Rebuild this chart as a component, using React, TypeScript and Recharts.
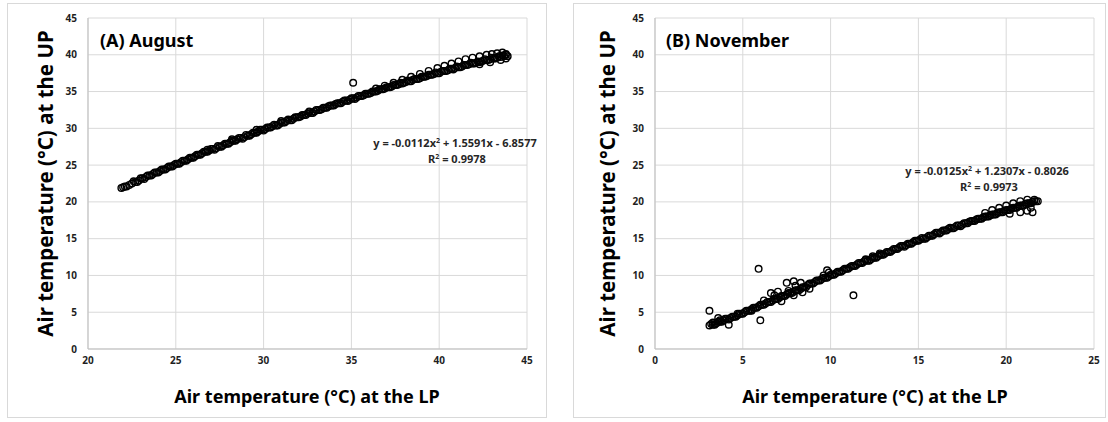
import React from 'react'
import { ScatterChart, Scatter, XAxis, YAxis, CartesianGrid } from 'recharts'

type Pt = [number, number]

// August: UP vs LP air temperature (°C)
const augustMain: Pt[] = [
  [21.9, 21.9], [22.0, 22.0], [22.1, 22.1], [22.2, 22.1], [22.35, 22.3], [22.5, 22.5],
  [22.7, 22.7], [22.9, 22.9], [23.1, 23.2], [23.3, 23.4], [23.5, 23.6], [23.7, 23.8],
  [23.9, 24.0], [24.1, 24.2], [24.3, 24.4], [24.5, 24.6], [24.7, 24.8], [24.9, 25.0],
  [25.1, 25.2], [25.3, 25.4], [25.5, 25.6], [25.7, 25.8], [25.9, 26.0], [26.1, 26.2],
  [26.3, 26.4], [26.5, 26.6], [26.7, 26.8], [26.9, 27.0], [27.1, 27.2], [27.3, 27.3],
  [27.5, 27.5], [27.7, 27.7], [27.9, 27.9], [28.1, 28.1], [28.3, 28.3], [28.5, 28.5],
  [28.7, 28.7], [28.9, 28.8], [29.1, 29.0], [29.3, 29.2], [29.5, 29.4], [29.7, 29.6],
  [29.9, 29.8], [30.1, 29.9], [30.3, 30.1], [30.5, 30.3], [30.7, 30.4], [30.9, 30.6],
  [31.1, 30.8], [31.3, 31.0], [31.5, 31.1], [31.7, 31.3], [31.9, 31.5], [32.1, 31.6],
  [32.3, 31.8], [32.5, 32.0], [32.7, 32.1], [32.9, 32.3], [33.1, 32.5], [33.3, 32.6],
  [33.5, 32.8], [33.7, 33.0], [33.9, 33.1], [34.1, 33.3], [34.3, 33.4], [34.5, 33.6],
  [34.7, 33.8], [34.9, 33.9], [35.1, 34.1], [35.3, 34.2], [35.5, 34.4], [35.7, 34.5],
  [35.9, 34.7], [36.1, 34.8], [36.3, 35.0], [36.5, 35.1], [36.7, 35.3], [36.9, 35.4],
  [37.1, 35.6], [37.3, 35.7], [37.5, 35.9], [37.7, 36.0], [37.9, 36.1], [38.1, 36.3],
  [38.3, 36.4], [38.5, 36.6], [38.7, 36.7], [38.9, 36.8], [39.1, 37.0], [39.3, 37.1],
  [39.5, 37.3], [39.7, 37.4], [39.9, 37.5], [40.1, 37.7], [40.3, 37.8], [40.5, 37.9],
  [40.7, 38.1], [40.9, 38.2], [41.1, 38.3], [41.3, 38.4], [41.5, 38.6], [41.7, 38.7],
  [41.9, 38.8], [42.1, 38.9], [42.3, 39.0], [42.5, 39.2], [42.7, 39.3], [42.9, 39.4],
  [43.1, 39.5], [43.3, 39.6], [43.5, 39.7], [43.7, 39.8],
]
const augustMid: Pt[] = [
  [22.6, 22.8], [22.8, 22.7], [23.0, 23.2], [23.2, 23.1], [23.4, 23.6], [23.6, 23.6],
  [23.8, 24.0], [24.0, 24.0], [24.2, 24.4], [24.4, 24.4], [24.6, 24.8], [24.8, 24.8],
  [25.0, 25.2], [25.2, 25.2], [25.4, 25.6], [25.6, 25.6], [25.8, 26.0], [26.0, 26.0],
  [26.2, 26.4], [26.4, 26.4], [26.6, 26.8], [26.8, 26.8], [27.0, 27.2], [27.2, 27.1],
  [27.4, 27.6], [27.6, 27.5], [27.8, 27.9], [28.0, 27.9], [28.2, 28.3], [28.4, 28.3],
  [28.6, 28.7], [28.8, 28.6], [29.0, 29.1], [29.2, 29.0], [29.4, 29.4], [29.6, 29.4],
  [29.8, 29.8], [30.0, 29.7], [30.2, 30.1], [30.4, 30.1], [30.6, 30.5], [30.8, 30.4],
  [31.0, 30.8], [31.2, 30.8], [31.4, 31.2], [31.6, 31.1], [31.8, 31.5], [32.0, 31.5],
  [32.2, 31.8], [32.4, 31.8], [32.6, 32.2], [32.8, 32.1], [33.0, 32.5], [33.2, 32.5],
  [33.4, 32.8], [33.6, 32.8], [33.8, 33.1], [34.0, 33.1], [34.2, 33.4], [34.4, 33.4],
  [34.6, 33.8], [34.8, 33.7], [35.0, 34.1], [35.2, 34.0], [35.4, 34.4], [35.6, 34.4],
  [35.8, 34.7], [36.0, 34.7], [36.2, 35.0], [36.4, 35.0], [36.6, 35.3], [36.8, 35.3],
  [37.0, 35.6], [37.2, 35.6], [37.4, 35.9], [37.6, 35.9], [37.8, 36.2], [38.0, 36.2],
  [38.2, 36.5], [38.4, 36.4], [38.6, 36.7], [38.8, 36.7], [39.0, 37.0], [39.2, 37.0],
  [39.4, 37.3], [39.6, 37.3], [39.8, 37.6], [40.0, 37.5], [40.2, 37.8], [40.4, 37.8],
  [40.6, 38.1], [40.8, 38.0], [41.0, 38.4], [41.2, 38.3], [41.4, 38.6], [41.6, 38.6],
  [41.8, 38.9], [42.0, 38.8], [42.2, 39.1], [42.4, 39.1], [42.6, 39.4], [42.8, 39.3],
  [43.0, 39.6], [43.2, 39.5], [43.4, 39.8], [43.6, 39.9], [43.8, 40.0],
]
const augustUpper: Pt[] = [
  [26.8, 27.1], [28.2, 28.5], [29.6, 29.8], [31.0, 31.0], [32.6, 32.3],
  [36.4, 35.4], [36.9, 35.8], [37.4, 36.2], [37.9, 36.6], [38.4, 37.0], [38.9, 37.4],
  [39.4, 37.8], [39.9, 38.2], [40.3, 38.5], [40.7, 38.8], [41.1, 39.1], [41.5, 39.4],
  [41.9, 39.6], [42.3, 39.8], [42.7, 40.0], [43.0, 40.1], [43.3, 40.2], [43.6, 40.3],
  [43.8, 40.1], [43.9, 39.8], [43.8, 39.5], [43.5, 39.3], [42.9, 39.0], [42.3, 38.7],
]
const augustOutliers: Pt[] = [[35.1, 36.2]]
const augustFit = ['-0.0112', '1.5591', '6.8577', '0.9978']

// November
const novemberMain: Pt[] = [
  [3.1, 3.2], [3.3, 3.3], [3.5, 3.5], [3.7, 3.7], [3.9, 3.9], [4.1, 4.1], [4.3, 4.2],
  [4.5, 4.4], [4.7, 4.6], [4.9, 4.8], [5.1, 5.0], [5.3, 5.2], [5.5, 5.4], [5.7, 5.6],
  [5.9, 5.8], [6.1, 6.0], [6.3, 6.2], [6.5, 6.4], [6.7, 6.6], [6.9, 6.8], [7.1, 7.0],
  [7.3, 7.2], [7.5, 7.4], [7.7, 7.6], [7.9, 7.8], [8.1, 8.0], [8.3, 8.2], [8.5, 8.4],
  [8.7, 8.7], [8.9, 8.9], [9.1, 9.1], [9.3, 9.3], [9.5, 9.5], [9.7, 9.7], [9.9, 9.9],
  [10.1, 10.1], [10.3, 10.3], [10.5, 10.5], [10.7, 10.7], [10.9, 10.9], [11.1, 11.1],
  [11.3, 11.3], [11.5, 11.5], [11.7, 11.7], [11.9, 11.9], [12.1, 12.0], [12.3, 12.2],
  [12.5, 12.4], [12.7, 12.6], [12.9, 12.8], [13.1, 13.0], [13.3, 13.2], [13.5, 13.4],
  [13.7, 13.6], [13.9, 13.8], [14.1, 14.0], [14.3, 14.1], [14.5, 14.3], [14.7, 14.5],
  [14.9, 14.7], [15.1, 14.9], [15.3, 15.0], [15.5, 15.2], [15.7, 15.4], [15.9, 15.6],
  [16.1, 15.8], [16.3, 15.9], [16.5, 16.1], [16.7, 16.3], [16.9, 16.4], [17.1, 16.6],
  [17.3, 16.8], [17.5, 16.9], [17.7, 17.1], [17.9, 17.3], [18.1, 17.4], [18.3, 17.6],
  [18.5, 17.7], [18.7, 17.9], [18.9, 18.0], [19.1, 18.2], [19.3, 18.3], [19.5, 18.5],
  [19.7, 18.6], [19.9, 18.8], [20.1, 18.9], [20.3, 19.1], [20.5, 19.2], [20.7, 19.4],
  [20.9, 19.5], [21.1, 19.7], [21.3, 19.8], [21.5, 20.0], [21.7, 20.1],
]
const novemberMid: Pt[] = [
  [3.2, 3.4], [3.4, 3.3], [3.6, 3.7], [3.8, 3.7], [4.0, 4.1], [4.2, 4.0], [4.4, 4.4],
  [4.6, 4.4], [4.8, 4.8], [5.0, 4.8], [5.2, 5.2], [5.4, 5.2], [5.6, 5.6], [5.8, 5.6],
  [6.0, 6.0], [6.2, 6.0], [6.4, 6.4], [6.6, 6.4], [6.8, 6.8], [7.0, 6.8], [7.2, 7.2],
  [7.4, 7.2], [7.6, 7.6], [7.8, 7.6], [8.0, 8.0], [8.2, 8.0], [8.4, 8.4], [8.6, 8.4],
  [8.8, 8.9], [9.0, 8.9], [9.2, 9.3], [9.4, 9.3], [9.6, 9.7], [9.8, 9.7], [10.0, 10.1],
  [10.2, 10.1], [10.4, 10.5], [10.6, 10.5], [10.8, 10.9], [11.0, 10.9], [11.2, 11.3],
  [11.4, 11.3], [11.6, 11.7], [11.8, 11.7], [12.0, 12.1], [12.2, 12.0], [12.4, 12.4],
  [12.6, 12.4], [12.8, 12.8], [13.0, 12.8], [13.2, 13.2], [13.4, 13.2], [13.6, 13.6],
  [13.8, 13.6], [14.0, 14.0], [14.2, 13.9], [14.4, 14.3], [14.6, 14.3], [14.8, 14.7],
  [15.0, 14.7], [15.2, 15.1], [15.4, 15.0], [15.6, 15.4], [15.8, 15.4], [16.0, 15.8],
  [16.2, 15.7], [16.4, 16.1], [16.6, 16.1], [16.8, 16.5], [17.0, 16.4], [17.2, 16.8],
  [17.4, 16.7], [17.6, 17.1], [17.8, 17.1], [18.0, 17.4], [18.2, 17.4], [18.4, 17.7],
  [18.6, 17.7], [18.8, 18.0], [19.0, 18.0], [19.2, 18.3], [19.4, 18.3], [19.6, 18.6],
  [19.8, 18.6], [20.0, 18.9], [20.2, 18.9], [20.4, 19.2], [20.6, 19.2], [20.8, 19.5],
  [21.0, 19.5], [21.2, 19.8], [21.4, 19.8], [21.6, 20.1],
]
const novemberUpper: Pt[] = [
  [9.6, 10.0], [9.9, 10.4], [12.0, 12.2], [12.4, 12.6], [12.8, 13.0],
  [18.8, 18.5], [19.2, 18.9], [19.6, 19.2], [20.0, 19.5], [20.4, 19.8], [20.8, 20.1],
  [21.2, 20.3], [21.6, 20.3], [21.8, 20.1], [21.4, 19.2], [20.8, 18.6], [21.2, 18.8],
  [21.5, 18.6], [20.2, 18.4],
]
const novemberOutliers: Pt[] = [
  [3.1, 5.2], [5.9, 10.9], [6.0, 3.9], [11.3, 7.3], [6.6, 7.6], [7.2, 6.5], [7.5, 9.0],
  [7.9, 7.3], [8.4, 7.7], [8.3, 9.0], [9.8, 10.7], [3.7, 3.9], [4.2, 3.3], [4.7, 4.8],
  [7.6, 7.9], [7.9, 9.2], [3.6, 4.2], [6.2, 6.6], [6.8, 7.3], [7.0, 7.8], [8.0, 8.6],
  [8.8, 8.2], [5.5, 5.2], [3.3, 3.6],
]
const novemberFit = ['-0.0125', '1.2307', '0.8026', '0.9973']

const yTicks = [0, 5, 10, 15, 20, 25, 30, 35, 40, 45]
const augustTicks = [20, 25, 30, 35, 40, 45]
const novemberTicks = [0, 5, 10, 15, 20, 25]

const FONT = '"Noto Sans", "DejaVu Sans", sans-serif'
const H = 415

const toRows = (pts: Pt[]) => pts.map(([x, y]) => ({ x, y }))

function Ring(props: any) {
  const { cx, cy } = props
  if (cx == null || cy == null) return null
  return <circle cx={cx} cy={cy} r={3.3} fill="none" stroke="#000" strokeWidth={1.4} />
}

const tickStyle = { fontSize: 10, fontWeight: 700, fill: '#1f1f1f', fontFamily: FONT }

interface PanelProps {
  left: number
  width: number
  marginLeft: number
  marginRight: number
  xDomain: [number, number]
  xTicks: number[]
  points: Pt[]
  title: string
  fit: string[]
  eqX: number
  eqY: number
  yTitleX: number
  xTitleX: number
}

function Panel(p: PanelProps) {
  const [a, b, c, r2] = p.fit
  return (
    <div style={{ position: 'absolute', left: p.left, top: 3, width: p.width, height: H }}>
      <ScatterChart
        width={p.width}
        height={H}
        margin={{ top: 15, right: p.marginRight, bottom: 39, left: p.marginLeft }}
      >
        <CartesianGrid stroke="#d9d9d9" />
        <XAxis
          type="number"
          dataKey="x"
          domain={p.xDomain}
          ticks={p.xTicks}
          interval={0}
          height={30}
          tickLine={false}
          axisLine={{ stroke: '#bfbfbf' }}
          tick={tickStyle}
        />
        <YAxis
          type="number"
          dataKey="y"
          domain={[0, 45]}
          ticks={yTicks}
          interval={0}
          width={60}
          tickLine={false}
          tickMargin={5}
          axisLine={{ stroke: '#bfbfbf' }}
          tick={tickStyle}
        />
        <Scatter data={toRows(p.points)} shape={Ring} isAnimationActive={false} />
      </ScatterChart>
      <svg
        width={p.width}
        height={H}
        style={{ position: 'absolute', left: 0, top: 0, pointerEvents: 'none' }}
        fontFamily={FONT}
      >
        <rect x={0.5} y={0.5} width={p.width - 1} height={H - 1} fill="none" stroke="#d9d9d9" />
        <text x={93} y={44} fontSize={18} fontWeight={700} fill="#000">{p.title}</text>
        <text
          transform={`translate(${p.yTitleX},180.5) rotate(-90)`}
          textAnchor="middle"
          fontSize={20.5}
          fontWeight={700}
          fill="#000"
        >
          Air temperature (°C) at the UP
        </text>
        <text x={p.xTitleX} y={400} textAnchor="middle" fontSize={18} fontWeight={700} fill="#000">
          Air temperature (°C) at the LP
        </text>
        <text x={p.eqX} y={p.eqY} textAnchor="middle" fontSize={11} fontWeight={700} fill="#262626">
          {`y = ${a}x`}
          <tspan dy={-4} fontSize={7}>2</tspan>
          <tspan dy={4}>{` + ${b}x - ${c}`}</tspan>
        </text>
        <text x={p.eqX + 2} y={p.eqY + 16} textAnchor="middle" fontSize={11} fontWeight={700} fill="#262626">
          R<tspan dy={-4} fontSize={7}>2</tspan>
          <tspan dy={4}>{` = ${r2}`}</tspan>
        </text>
      </svg>
    </div>
  )
}

export default function App() {
  return (
    <div style={{ position: 'absolute', left: 0, top: 0, width: 1108, height: 422, background: '#fff' }}>
      <Panel
        left={7}
        width={540}
        marginLeft={21}
        marginRight={20}
        xDomain={[20, 45]}
        xTicks={augustTicks}
        points={[...augustMain, ...augustMid, ...augustUpper, ...augustOutliers]}
        title="(A) August"
        fit={augustFit}
        eqX={448}
        eqY={144}
        yTitleX={46}
        xTitleX={300}
      />
      <Panel
        left={573}
        width={533}
        marginLeft={22}
        marginRight={12}
        xDomain={[0, 25]}
        xTicks={novemberTicks}
        points={[...novemberMain, ...novemberMid, ...novemberUpper, ...novemberOutliers]}
        title="(B) November"
        fit={novemberFit}
        eqX={414}
        eqY={172}
        yTitleX={42}
        xTitleX={302}
      />
    </div>
  )
}
